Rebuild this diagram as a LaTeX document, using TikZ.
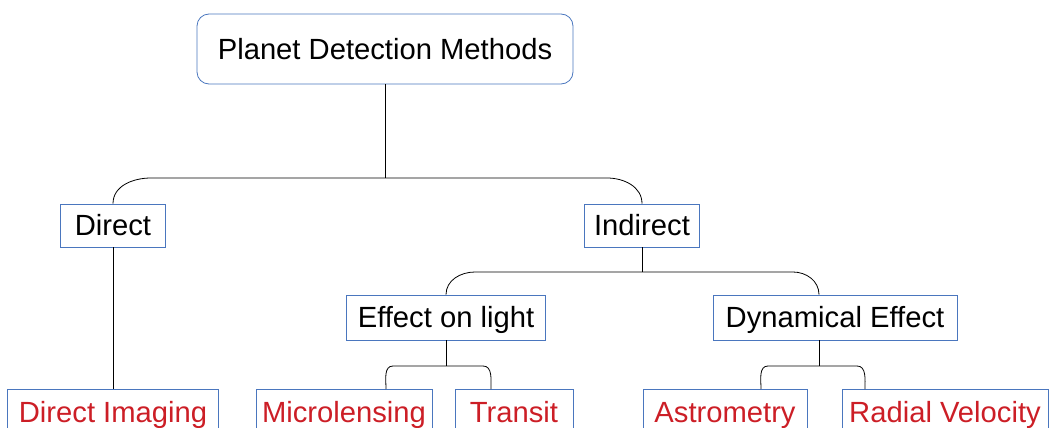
\documentclass[tikz,border=0pt]{standalone}
\usepackage{fontspec}
\setmainfont{Liberation Sans}
\usetikzlibrary{arrows}
\definecolor{boxblue}{RGB}{74,118,190}
\definecolor{methodred}{RGB}{204,30,38}

\begin{document}
\begin{tikzpicture}[x=1pt,y=1pt]
\tikzset{box/.style = {shape=rectangle,draw=boxblue,line width=0.8pt,inner xsep=0pt,inner ysep=0pt,text height=20.8pt,text depth=0pt,font=\fontsize{29.2}{35}\selectfont}}
\tikzset{method/.style = {box,text=methodred,anchor=north,minimum height=45pt}}
\tikzset{edge/.style = {draw=black,line width=0.8pt}}
\useasboundingbox (0,0) rectangle (1049,-428);
\clip (0,0) rectangle (1049,-428);
% nodes
\node[box,rounded corners=12pt,minimum width=376pt,minimum height=70pt] (root) at (385,-49) {Planet Detection Methods};
\node[box,minimum width=105pt,minimum height=43pt] (direct) at (113,-225.5) {Direct};
\node[box,minimum width=115pt,minimum height=43pt] (indirect) at (642,-225.5) {Indirect};
\node[box,minimum width=199pt,minimum height=45pt] (eol) at (446,-317.5) {Effect on light};
\node[box,minimum width=244pt,minimum height=45pt] (dyn) at (835,-317.5) {Dynamical Effect};
\node[method,minimum width=211pt] (dimg) at (113,-389) {Direct Imaging};
\node[method,minimum width=176pt] (mic) at (344,-389) {Microlensing};
\node[method,minimum width=118pt] (tra) at (514,-389) {Transit};
\node[method,minimum width=164pt] (ast) at (725,-389) {Astrometry};
\node[method,minimum width=206pt] (rad) at (945,-389) {Radial Velocity};
% junctions
\coordinate (j1) at (385,-178);
\coordinate (j1l) at (151,-178);
\coordinate (j1r) at (607,-178);
\coordinate (j2) at (642,-272);
\coordinate (j2l) at (475,-272);
\coordinate (j2r) at (793,-272);
\coordinate (j3) at (446,-366);
\coordinate (j3l) at (393,-366);
\coordinate (j3r) at (483,-366);
\coordinate (j4) at (819,-366);
\coordinate (j4l) at (768,-366);
\coordinate (j4r) at (857,-366);
%edges
\draw[edge] (root) -- (j1);
\draw[edge] (direct.north) to[out=90,in=180] (j1l) -- (j1r) to[out=0,in=90] (indirect.north);
\draw[edge] (direct) -- (dimg);
\draw[edge] (indirect) -- (j2);
\draw[edge] (eol.north) to[out=90,in=180] (j2l) -- (j2r) to[out=0,in=90] ([xshift=-16pt]dyn.north);
\draw[edge] (eol) -- (j3);
\draw[edge] ([xshift=42pt]mic.north) to[out=90,in=180] (j3l) -- (j3r) to[out=0,in=90] ([xshift=-23pt]tra.north);
\draw[edge] ([xshift=-16pt]dyn.south) -- (j4);
\draw[edge] ([xshift=36pt]ast.north) to[out=90,in=180] (j4l) -- (j4r) to[out=0,in=90] ([xshift=-80pt]rad.north);
\end{tikzpicture}
\end{document}
